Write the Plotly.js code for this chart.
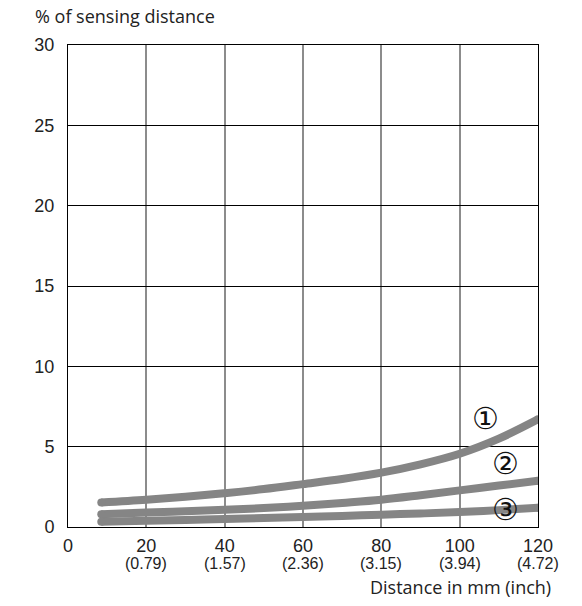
<!DOCTYPE html>
<html><head><meta charset="utf-8">
<script src="https://cdn.plot.ly/plotly-3.0.1.min.js"></script>
<style>body{margin:0;background:#fff}#c{width:582px;height:606px}</style>
</head><body><div id="c"></div>
<script>
const distX  = [8.5, 20, 30, 40, 50, 60, 70, 80, 90, 100, 110, 120];
const curve1 = [1.53, 1.7, 1.88, 2.1, 2.36, 2.67, 2.99, 3.38, 3.9, 4.56, 5.5, 6.7];
const curve2 = [0.8, 0.9, 0.98, 1.07, 1.18, 1.32, 1.5, 1.7, 1.98, 2.28, 2.58, 2.88];
const curve3 = [0.33, 0.39, 0.44, 0.5, 0.56, 0.62, 0.69, 0.77, 0.84, 0.93, 1.05, 1.2];
const xTickVals = [0, 20, 40, 60, 80, 100, 120];
const xTickMain = ['0', '20', '40', '60', '80', '100', '120'];
const xTickInch = ['', '(0.79)', '(1.57)', '(2.36)', '(3.15)', '(3.94)', '(4.72)'];
const yTickVals = [0, 5, 10, 15, 20, 25, 30];
const labels = ['①', '②', '③'];
const labelX = [106.5, 111.6, 111.6];
const labelY = [6.77, 3.98, 1.1];

const lineColor = '#858585';
const series = [curve1, curve2, curve3];
const traces = [];
series.forEach(s => {
  traces.push({x: distX, y: s, mode: 'lines', line: {color: lineColor, width: 8, shape: 'spline', smoothing: 1}, hoverinfo: 'skip'});
  traces.push({x: [distX[0], distX[distX.length-1]], y: [s[0], s[s.length-1]], mode: 'markers', marker: {color: lineColor, size: 8, line: {width: 0}}, hoverinfo: 'skip'});
});

const annotations = labels.map((t, i) => ({x: labelX[i], y: labelY[i], xref: 'x', yref: 'y', text: t, showarrow: false, font: {size: 30, color: '#111', family: 'DejaVu Serif'}}));
xTickInch.forEach((t, i) => {
  if (t) annotations.push({x: xTickVals[i], y: 0, xref: 'x', yref: 'paper', yanchor: 'middle', yshift: -36, text: t, showarrow: false, font: {size: 16, color: '#222'}});
});
annotations.push({xref: 'paper', yref: 'paper', x: -0.0745, y: 1.060, xanchor: 'left', yanchor: 'middle', text: '% of sensing distance', showarrow: false, font: {size: 18, color: '#222', family: 'Open Sans'}});
annotations.push({xref: 'paper', yref: 'paper', x: 1.032, y: -0.1245, xanchor: 'right', yanchor: 'middle', text: 'Distance in mm (inch)', showarrow: false, font: {size: 18, color: '#222', family: 'Open Sans'}});

const layout = {
  width: 582, height: 606,
  margin: {l: 68, r: 44, t: 45, b: 79},
  paper_bgcolor: '#fff', plot_bgcolor: '#fff',
  showlegend: false,
  font: {family: 'Liberation Sans, Arial, sans-serif', color: '#222', size: 18},
  xaxis: {range: [0, 120], tickvals: xTickVals, ticktext: xTickMain, showgrid: true, gridcolor: '#8c8c8c', gridwidth: 2,
    zeroline: false, showline: true, mirror: true, linecolor: '#000', linewidth: 1, ticks: '', ticklabelstandoff: 2, fixedrange: true, tickfont: {size: 18}},
  yaxis: {range: [0, 30], tickvals: yTickVals, showgrid: true, gridcolor: '#000', gridwidth: 1,
    zeroline: false, showline: true, mirror: true, linecolor: '#000', linewidth: 1, ticks: '', ticklabelstandoff: 9, fixedrange: true, tickfont: {size: 18}},
  annotations: annotations
};
Plotly.newPlot('c', traces, layout, {displayModeBar: false, staticPlot: true});
</script></body></html>
